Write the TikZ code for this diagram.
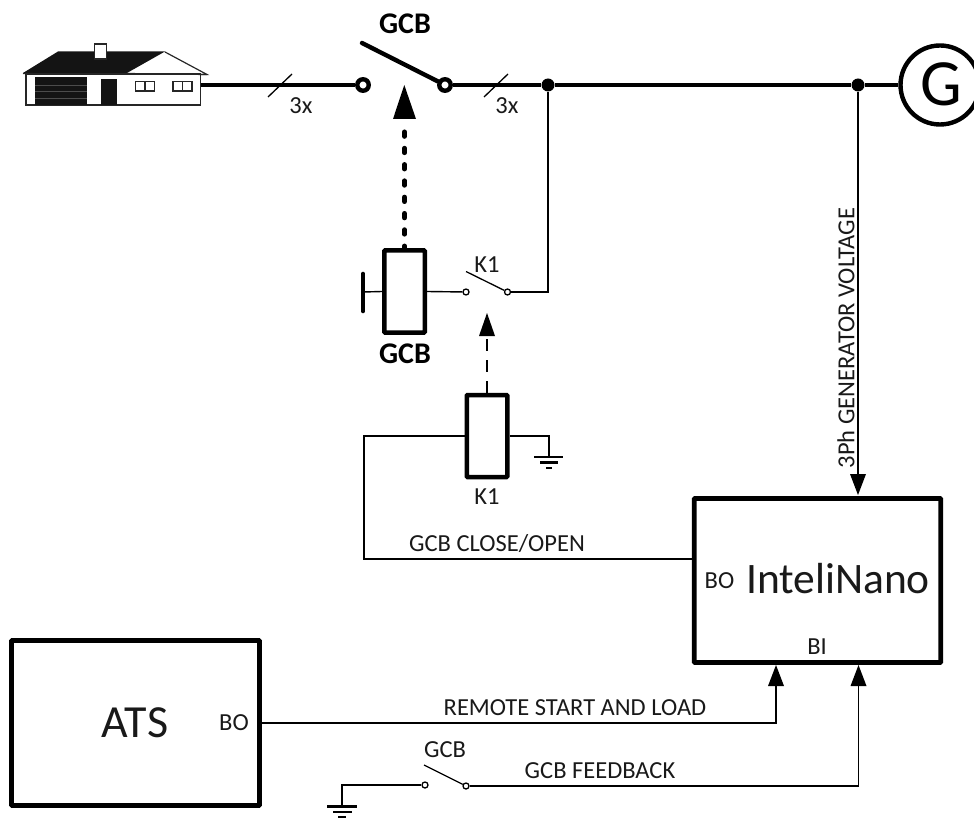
\documentclass[tikz,border=0pt]{standalone}
\usepackage{fontspec}
\setmainfont{Carlito}
\usetikzlibrary{arrows.meta}
\tikzset{
 thick line/.style={draw=black,line width=4.6pt},
 thin line/.style={draw=black,line width=1.4pt},
 relay/.style={draw=black,line width=4.5pt,rounded corners=0.8pt,fill=white,minimum width=40.5pt,minimum height=82pt,inner sep=0pt},
 blockbox/.style={draw=black,line width=4.7pt,rounded corners=0.8pt,fill=white,inner sep=0pt},
 openterm/.style={circle,draw=black,fill=white,line width=4.4pt,inner sep=0pt,minimum size=11.5pt},
 smallterm/.style={circle,draw=black,fill=white,line width=1.3pt,inner sep=0pt,minimum size=6pt},
 jn/.style={circle,fill=black,inner sep=0pt,minimum size=13pt},
 lab/.style={inner sep=0pt,text=black!90,font=\fontsize{24.5}{28}\selectfont},
 boldlab/.style={inner sep=0pt,font=\fontsize{30}{34}\selectfont\bfseries},
 biglab/.style={inner sep=0pt,text=black!90,font=\fontsize{43.5}{48}\selectfont},
}
\begin{document}
\begin{tikzpicture}[x=1pt,y=-1pt]
\useasboundingbox (0,0) rectangle (974,818);
% house
\coordinate (hb) at (201,85);
\fill[black!92] (23,73) -- (58,51.5) -- (165,51.5) -- (127,73) -- cycle;
\draw[black!85,line width=1.2pt] (165,52) -- (207,74.5) -- (127,73.5);
\draw[black!85,line width=1.3pt,fill=white] (26,74) rectangle (200.5,105);
\draw[black!85,line width=1.1pt] (23,73.5) -- (207,74.5);
\fill[black!92] (34.5,77.5) rectangle (87,105);
\draw[black!70,line width=.4pt] (35,85) -- (87,85) (35,91) -- (87,91) (35,98) -- (87,98);
\fill[black!92] (101,79.5) rectangle (117,105);
\draw[black!85,line width=1.3pt,fill=white] (94.5,44) rectangle (106.5,59);
\draw[black!85,line width=1.3pt,fill=white] (135.5,81.5) rectangle (154.5,91);
\draw[black!85,line width=1.1pt] (145,81.5) -- (145,91);
\draw[black!85,line width=1.3pt,fill=white] (173,81.5) rectangle (192,91);
\draw[black!85,line width=1.1pt] (182.5,81.5) -- (182.5,91);
% generator
\node[circle,draw=black,line width=4.4pt,fill=white,minimum size=79pt,inner sep=0pt] (gen) at (940,85) {};
\node[inner sep=0pt,font=\fontsize{66}{68}\selectfont] (gent) at (941,84) {G};
% switch nodes
\node[openterm] (t1) at (363,85) {};
\node[openterm] (t2) at (445,85) {};
\node[jn] (j1) at (548,85) {};
\node[jn] (j2) at (858,85) {};
\draw[thick line] (hb) -- (t1);
\draw[thick line] (t2) -- (j1) -- (j2) -- (gen);
\coordinate (sw) at (362,43);
\draw[line width=4.4pt,line cap=round] (sw) -- (t2);
% slashes
\coordinate (s1a) at (268,97); \coordinate (s1b) at (292,74);
\coordinate (s2a) at (484,97); \coordinate (s2b) at (508,74);
\draw[line width=1.3pt] (s1a) -- (s1b);
\draw[line width=1.3pt] (s2a) -- (s2b);
\node[lab] (l3a) at (301,106) {3x};
\node[lab] (l3b) at (507,106) {3x};
\node[boldlab] (lgcb1) at (405,24) {GCB};
% GCB coil
\node[relay] (coil) at (404.5,291.5) {};
\node[boldlab] (lgcb2) at (405,354) {GCB};
\coordinate (ar1) at (404.3,85);
\coordinate (ar1e) at (404.5,130.5);
\draw[line width=4.7pt,dash pattern=on 4.6pt off 11.7pt,dash phase=2.3pt,line cap=round] (coil.north) -- (ar1e);
\fill (ar1) -- (393,119) -- (416,119) -- cycle;
\coordinate (pb) at (363,292);
\draw[line width=4.6pt,line cap=round] (363,274) -- (363,311);
\draw[thin line] (pb) -- (coil.west);
% K1 contact
\node[smallterm] (k1a) at (466,292) {};
\node[smallterm] (k1b) at (507.5,292) {};
\draw[thin line] (coil.east) -- (k1a);
\draw[thin line] (k1b) -| (j1);
\coordinate (k1s) at (466,271.5);
\draw[line width=1.3pt] (k1s) -- (k1b);
\node[lab] (lk1a) at (487,265) {K1};
% K1 coil
\node[relay] (coil2) at (487,436) {};
\node[lab] (lk1b) at (487,497) {K1};
\draw[line width=1.4pt,dash pattern=on 12pt off 9pt] (coil2.north) -- (487,336);
\fill (487,313) -- (479,336) -- (495,336) -- cycle;
% ground 1
\coordinate (g1) at (549,436);
\draw[thin line] (coil2.east) -| (549,457);
\draw[line width=2.6pt] (534,457) -- (563,457);
\draw[line width=2.4pt] (540,462.5) -- (558,462.5);
\draw[line width=2.6pt] (546,468) -- (552,468);
% InteliNano
\node[blockbox,minimum width=246.5pt,minimum height=164pt] (nano) at (817.5,580.5) {};
\node[biglab] (lnano) at (838,579) {InteliNano};
\node[lab] (lbo1) at (719.5,581) {BO};
\node[lab] (lbi) at (817,647) {BI};
\coordinate (c1) at (364,436);
\coordinate (c2) at (364,559);
\draw[thin line] (coil2.west) -- (c1) -- (c2) -- (c2 -| nano.west);
\node[lab] (lclose) at (497,544) {GCB CLOSE/OPEN};
% voltage
\draw[thin line] (j2) -- (858,475);
\fill (858,495) -- (850,474) -- (866,474) -- cycle;
\node[lab,rotate=90] (lvolt) at (846,338) {3Ph GENERATOR VOLTAGE};
% ATS
\node[blockbox,minimum width=248pt,minimum height=165pt] (ats) at (135.5,723) {};
\node[inner sep=0pt,text=black!90,font=\fontsize{46}{50}\selectfont] (lats) at (135,723) {ATS};
\node[lab] (lbo2) at (234,723) {BO};
\draw[thin line] (ats.east) -- (776,723) -- (776,685);
\fill (776,665) -- (768,686) -- (784,686) -- cycle;
\node[lab] (lrem) at (575,708) {REMOTE START AND LOAD};
% GCB feedback
\node[smallterm] (f1) at (425,785) {};
\node[smallterm] (f2) at (466,786) {};
\draw[line width=1.3pt] (424,765) -- (f2);
\node[lab] (lg3) at (445,750) {GCB};
\draw[thin line] (f1) -- (342,785) -- (342,806);
\draw[line width=2.6pt] (327,806.7) -- (357,806.7);
\draw[line width=2.4pt] (333,812) -- (352,812);
\draw[line width=2.6pt] (338,817) -- (346,817);
\draw[thin line] (f2) -- (858.5,786) -- (858.5,685);
\fill (858.5,665) -- (850.5,686) -- (866.5,686) -- cycle;
\node[lab] (lfb) at (600,771) {GCB FEEDBACK};
\end{tikzpicture}
\end{document}
